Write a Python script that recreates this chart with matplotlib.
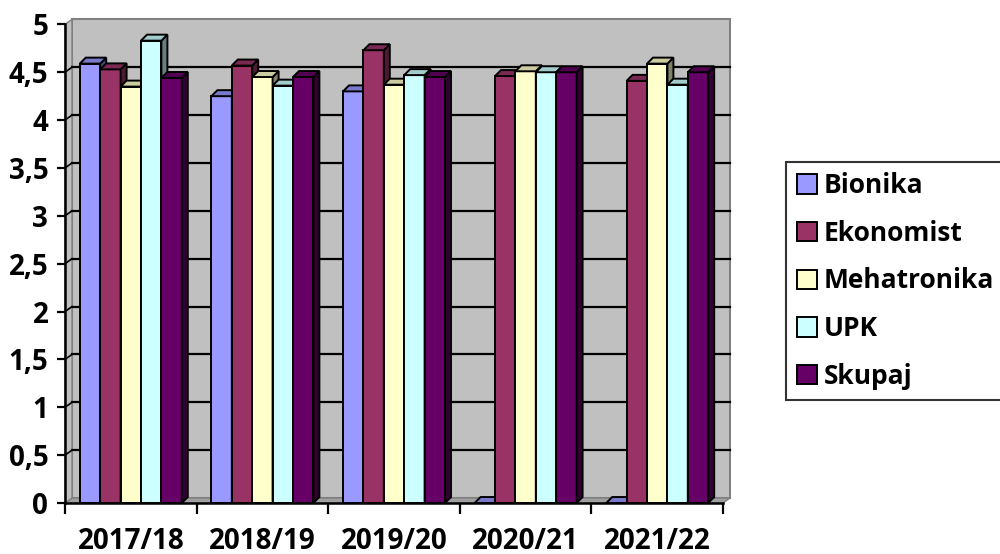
import matplotlib.pyplot as plt
from matplotlib.patches import Polygon, Patch
import numpy as np

plt.rcParams['font.family'] = ['Open Sans', 'DejaVu Sans']
plt.rcParams['font.weight'] = 'bold'

years = ['2017/18', '2018/19', '2019/20', '2020/21', '2021/22']
series = ['Bionika', 'Ekonomist', 'Mehatronika', 'UPK', 'Skupaj']
bionika = [4.59, 4.25, 4.30, 0, 0]
ekonomist = [4.53, 4.57, 4.73, 4.46, 4.41]
mehatronika = [4.35, 4.45, 4.37, 4.51, 4.59]
upk = [4.83, 4.36, 4.47, 4.50, 4.37]
skupaj = [4.44, 4.45, 4.45, 4.50, 4.50]
colors = ['#9999FF', '#993366', '#FFFFCC', '#CCFFFF', '#660066']
values = [bionika, ekonomist, mehatronika, upk, skupaj]

fig = plt.figure(figsize=(10, 5.54), dpi=100)
ax = fig.add_axes([0.065, 0.092, 0.658, 0.864])
ax.set_xlim(0, 5)
ax.set_ylim(0, 5)

# pixel -> data scale
px_x = 658 / 5
px_y = 478.7 / 5
wdx, wdy = 7 / px_x, 5 / px_y      # wall depth
bdx, bdy = 6 / px_x, 6 / px_y      # bar depth

wall = '#C0C0C0'
wall_edge = '#808080'

# back wall, floor and left wall
ax.add_patch(Polygon([(wdx, wdy), (5 + wdx, wdy), (5 + wdx, 5 + wdy), (wdx, 5 + wdy)],
                     closed=True, fc=wall, ec=wall_edge, lw=1.5, zorder=0, clip_on=False))
ax.add_patch(Polygon([(0, 0), (5, 0), (5 + wdx, wdy), (wdx, wdy)],
                     closed=True, fc='#A0A0A0', ec=wall_edge, lw=1, zorder=0.5, clip_on=False))
ax.add_patch(Polygon([(0, 0), (wdx, wdy), (wdx, 5 + wdy), (0, 5)],
                     closed=True, fc=wall, ec=wall_edge, lw=1, zorder=0.5, clip_on=False))
for v in np.arange(0.5, 5, 0.5):
    ax.plot([wdx, 5 + wdx], [v + wdy, v + wdy], color='black', lw=1.6, zorder=1, clip_on=False)
    ax.plot([0, wdx], [v, v + wdy], color='black', lw=1.2, zorder=1, clip_on=False)


def shade(c, f):
    c = np.array(plt.matplotlib.colors.to_rgb(c))
    return tuple(c * f)


w = 0.155
start = 0.5 - 2.5 * w
z = 2
for g in range(len(years)):
    for k in range(len(series)):
        h = values[k][g]
        x0 = g + start + k * w
        col = colors[k]
        ax.bar(x0, h, width=w, align='edge', color=col, edgecolor='black', lw=1.4, zorder=z)
        ax.add_patch(Polygon([(x0 + w, 0), (x0 + w + bdx, bdy), (x0 + w + bdx, h + bdy), (x0 + w, h)],
                             closed=True, fc=shade(col, 0.5), ec='black', lw=1.4, zorder=z + 0.1,
                             clip_on=False))
        ax.add_patch(Polygon([(x0, h), (x0 + w, h), (x0 + w + bdx, h + bdy), (x0 + bdx, h + bdy)],
                             closed=True, fc=shade(col, 0.8), ec='black', lw=1.4, zorder=z + 0.2,
                             clip_on=False))
        z += 1

# axes
for s in ['top', 'right']:
    ax.spines[s].set_visible(False)
for s in ['left', 'bottom']:
    ax.spines[s].set_linewidth(1.8)
    ax.spines[s].set_zorder(100)

yt = np.arange(0, 5.01, 0.5)
ax.set_yticks(yt)
ax.set_yticklabels([('%g' % v).replace('.', ',') for v in yt])
ax.tick_params(axis='y', length=6, width=1.6, pad=6, labelsize=20)

ax.set_xticks(np.arange(0, 5.01, 1))
ax.set_xticklabels([])
ax.set_xticks(np.arange(0.5, 5, 1), minor=True)
ax.set_xticklabels(years, minor=True)
ax.tick_params(axis='x', which='major', length=8, width=1.6)
ax.tick_params(axis='x', which='minor', length=0, pad=17, labelsize=20)

handles = [Patch(fc=c, ec='black', lw=1.4) for c in colors]
leg = fig.legend(handles, series, loc='upper left', bbox_to_anchor=(0.786, 0.708),
                 fontsize=19, frameon=True, fancybox=False, edgecolor='black',
                 handlelength=0.78, handleheight=0.75, handletextpad=0.25,
                 labelspacing=0.78, borderpad=0.4, borderaxespad=0)
leg.get_frame().set_linewidth(1.5)

fig.savefig('out.png', dpi=100)
